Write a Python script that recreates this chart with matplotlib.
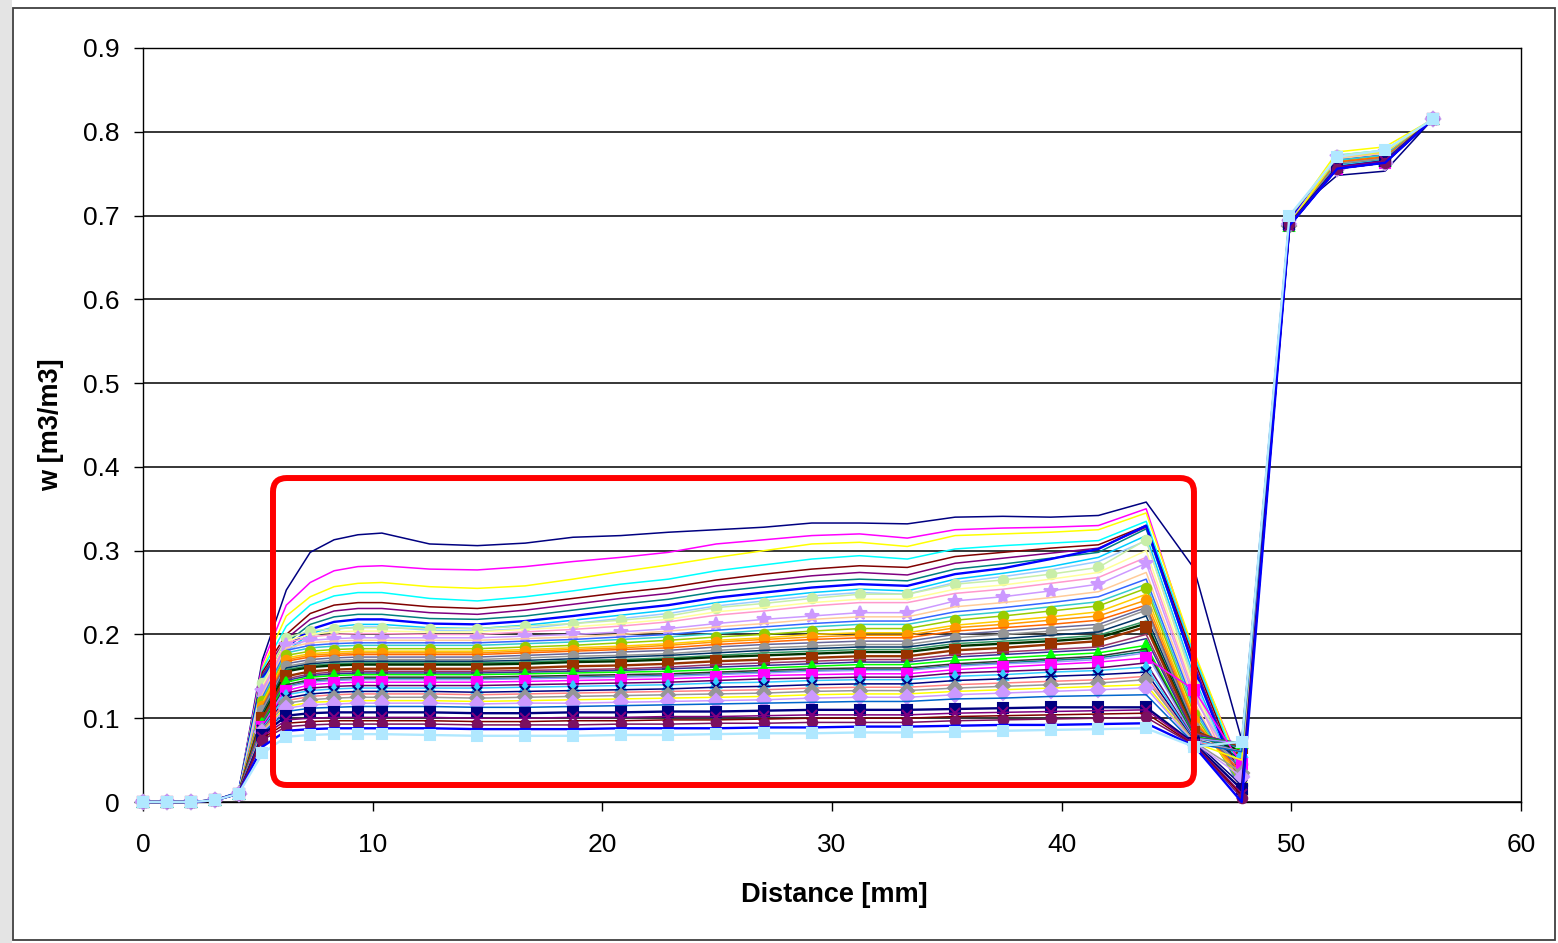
import numpy as np
import matplotlib
matplotlib.use("Agg")
import matplotlib.pyplot as plt
from matplotlib.patches import FancyBboxPatch, Rectangle

plt.rcParams['font.family'] = ['Liberation Sans', 'DejaVu Sans']

# measuring positions along the sample [mm]
distance_mm = [0, 1.04, 2.08, 3.12, 4.16, 5.2, 6.24, 7.28, 8.32, 9.36, 10.4,
               12.48, 14.56, 16.64, 18.72, 20.8, 22.88, 24.96, 27.04, 29.12, 31.2,
               33.28, 35.36, 37.44, 39.52, 41.6, 43.68,
               45.76, 47.84, 49.92, 52.0, 54.08, 56.16]

# moisture content profiles w [m3/m3], one row per measurement
w_profiles = [
    [0, 0, 0, 0.002, 0.012, 0.170, 0.253, 0.298, 0.313, 0.319, 0.321, 0.308, 0.306, 0.309, 0.316, 0.318, 0.322, 0.325, 0.328, 0.333, 0.333, 0.332, 0.340, 0.341, 0.340, 0.342, 0.358, 0.279, 0.074, 0.700, 0.748, 0.753, 0.815],
    [0, 0, 0, 0.002, 0.012, 0.165, 0.235, 0.262, 0.276, 0.281, 0.282, 0.278, 0.277, 0.281, 0.287, 0.292, 0.298, 0.308, 0.313, 0.318, 0.320, 0.315, 0.325, 0.327, 0.328, 0.330, 0.350, 0.175, 0.040, 0.690, 0.770, 0.776, 0.815],
    [0, 0, 0, 0.002, 0.012, 0.160, 0.222, 0.245, 0.257, 0.261, 0.262, 0.257, 0.255, 0.258, 0.266, 0.275, 0.283, 0.292, 0.300, 0.308, 0.310, 0.305, 0.318, 0.320, 0.322, 0.325, 0.345, 0.180, 0.035, 0.695, 0.776, 0.782, 0.815],
    [0, 0, 0, 0.002, 0.012, 0.158, 0.210, 0.235, 0.246, 0.250, 0.250, 0.243, 0.240, 0.245, 0.252, 0.260, 0.266, 0.276, 0.283, 0.290, 0.294, 0.290, 0.302, 0.306, 0.309, 0.312, 0.335, 0.175, 0.030, 0.692, 0.772, 0.778, 0.815],
    [0, 0, 0, 0.002, 0.011, 0.155, 0.200, 0.225, 0.235, 0.238, 0.238, 0.233, 0.231, 0.236, 0.243, 0.250, 0.256, 0.265, 0.272, 0.278, 0.282, 0.280, 0.293, 0.298, 0.303, 0.307, 0.330, 0.170, 0.025, 0.688, 0.762, 0.770, 0.815],
    [0, 0, 0, 0.002, 0.011, 0.152, 0.195, 0.218, 0.228, 0.231, 0.231, 0.226, 0.224, 0.229, 0.236, 0.243, 0.249, 0.258, 0.264, 0.270, 0.274, 0.271, 0.285, 0.291, 0.297, 0.303, 0.328, 0.165, 0.020, 0.690, 0.766, 0.772, 0.815],
    [0, 0, 0, 0.002, 0.011, 0.150, 0.190, 0.212, 0.221, 0.224, 0.224, 0.219, 0.218, 0.222, 0.229, 0.236, 0.242, 0.251, 0.257, 0.263, 0.266, 0.264, 0.278, 0.284, 0.291, 0.298, 0.326, 0.160, 0.020, 0.693, 0.768, 0.774, 0.815],
    [0, 0, 0, 0.002, 0.011, 0.148, 0.185, 0.206, 0.215, 0.218, 0.218, 0.213, 0.212, 0.216, 0.222, 0.229, 0.235, 0.244, 0.250, 0.256, 0.260, 0.258, 0.272, 0.279, 0.290, 0.302, 0.330, 0.160, 0.015, 0.695, 0.765, 0.773, 0.815],
    [0, 0, 0, 0.002, 0.011, 0.146, 0.180, 0.201, 0.209, 0.212, 0.212, 0.208, 0.207, 0.211, 0.217, 0.223, 0.229, 0.238, 0.244, 0.250, 0.254, 0.252, 0.266, 0.273, 0.281, 0.292, 0.318, 0.150, 0.012, 0.690, 0.770, 0.776, 0.815],
    [0, 0, 0, 0.002, 0.011, 0.144, 0.178, 0.198, 0.206, 0.209, 0.209, 0.205, 0.204, 0.207, 0.213, 0.219, 0.225, 0.234, 0.240, 0.246, 0.250, 0.248, 0.262, 0.269, 0.277, 0.287, 0.312, 0.145, 0.012, 0.688, 0.768, 0.775, 0.815],
    [0, 0, 0, 0.002, 0.010, 0.142, 0.196, 0.204, 0.207, 0.208, 0.208, 0.207, 0.207, 0.210, 0.213, 0.217, 0.222, 0.232, 0.237, 0.243, 0.248, 0.248, 0.260, 0.265, 0.272, 0.280, 0.313, 0.140, 0.010, 0.690, 0.772, 0.778, 0.815],
    [0, 0, 0, 0.002, 0.010, 0.138, 0.192, 0.200, 0.203, 0.204, 0.204, 0.203, 0.203, 0.206, 0.209, 0.213, 0.218, 0.227, 0.232, 0.238, 0.242, 0.242, 0.254, 0.259, 0.266, 0.274, 0.300, 0.135, 0.010, 0.688, 0.770, 0.776, 0.815],
    [0, 0, 0, 0.002, 0.010, 0.135, 0.190, 0.197, 0.200, 0.201, 0.201, 0.200, 0.200, 0.203, 0.206, 0.210, 0.215, 0.223, 0.228, 0.234, 0.238, 0.238, 0.249, 0.254, 0.261, 0.268, 0.292, 0.130, 0.010, 0.690, 0.768, 0.775, 0.815],
    [0, 0, 0, 0.002, 0.010, 0.132, 0.187, 0.193, 0.195, 0.196, 0.196, 0.196, 0.196, 0.198, 0.200, 0.203, 0.207, 0.213, 0.218, 0.222, 0.226, 0.226, 0.240, 0.245, 0.252, 0.260, 0.285, 0.125, 0.030, 0.692, 0.770, 0.776, 0.815],
    [0, 0, 0, 0.002, 0.010, 0.128, 0.184, 0.190, 0.192, 0.193, 0.193, 0.193, 0.193, 0.195, 0.197, 0.200, 0.204, 0.209, 0.213, 0.218, 0.221, 0.221, 0.233, 0.238, 0.244, 0.251, 0.274, 0.120, 0.012, 0.690, 0.768, 0.774, 0.815],
    [0, 0, 0, 0.002, 0.010, 0.125, 0.181, 0.187, 0.189, 0.190, 0.190, 0.190, 0.190, 0.192, 0.194, 0.197, 0.200, 0.205, 0.209, 0.213, 0.216, 0.216, 0.227, 0.232, 0.238, 0.245, 0.266, 0.115, 0.015, 0.688, 0.766, 0.772, 0.815],
    [0, 0, 0, 0.002, 0.010, 0.122, 0.178, 0.184, 0.186, 0.187, 0.187, 0.187, 0.187, 0.189, 0.191, 0.194, 0.197, 0.201, 0.205, 0.209, 0.212, 0.212, 0.222, 0.227, 0.233, 0.239, 0.260, 0.110, 0.018, 0.690, 0.766, 0.772, 0.815],
    [0, 0, 0, 0.002, 0.010, 0.120, 0.175, 0.180, 0.182, 0.183, 0.183, 0.183, 0.183, 0.185, 0.187, 0.190, 0.193, 0.197, 0.200, 0.204, 0.207, 0.207, 0.217, 0.222, 0.228, 0.234, 0.255, 0.105, 0.020, 0.688, 0.764, 0.770, 0.815],
    [0, 0, 0, 0.002, 0.010, 0.118, 0.172, 0.177, 0.179, 0.180, 0.180, 0.180, 0.180, 0.182, 0.184, 0.186, 0.189, 0.193, 0.196, 0.200, 0.202, 0.202, 0.211, 0.216, 0.221, 0.227, 0.248, 0.100, 0.025, 0.690, 0.764, 0.770, 0.815],
    [0, 0, 0, 0.002, 0.010, 0.115, 0.170, 0.175, 0.177, 0.178, 0.178, 0.178, 0.178, 0.180, 0.182, 0.184, 0.187, 0.191, 0.194, 0.197, 0.199, 0.199, 0.208, 0.212, 0.217, 0.222, 0.241, 0.098, 0.030, 0.688, 0.762, 0.768, 0.815],
    [0, 0, 0, 0.002, 0.010, 0.113, 0.168, 0.173, 0.175, 0.176, 0.176, 0.176, 0.176, 0.178, 0.180, 0.182, 0.184, 0.188, 0.191, 0.194, 0.196, 0.196, 0.204, 0.208, 0.212, 0.217, 0.235, 0.095, 0.035, 0.690, 0.764, 0.770, 0.815],
    [0, 0, 0, 0.002, 0.010, 0.112, 0.165, 0.170, 0.172, 0.173, 0.173, 0.173, 0.173, 0.175, 0.177, 0.179, 0.181, 0.185, 0.188, 0.190, 0.192, 0.192, 0.200, 0.204, 0.208, 0.212, 0.232, 0.092, 0.040, 0.688, 0.762, 0.768, 0.815],
    [0, 0, 0, 0.002, 0.010, 0.110, 0.162, 0.167, 0.169, 0.170, 0.170, 0.170, 0.170, 0.172, 0.174, 0.175, 0.177, 0.181, 0.184, 0.186, 0.188, 0.188, 0.196, 0.200, 0.204, 0.208, 0.229, 0.090, 0.045, 0.690, 0.762, 0.768, 0.815],
    [0, 0, 0, 0.002, 0.010, 0.106, 0.160, 0.165, 0.167, 0.168, 0.168, 0.168, 0.168, 0.169, 0.171, 0.173, 0.175, 0.178, 0.181, 0.183, 0.185, 0.185, 0.192, 0.195, 0.199, 0.203, 0.222, 0.088, 0.050, 0.688, 0.760, 0.766, 0.815],
    [0, 0, 0, 0.002, 0.010, 0.104, 0.158, 0.163, 0.165, 0.166, 0.166, 0.166, 0.166, 0.167, 0.169, 0.170, 0.172, 0.175, 0.178, 0.180, 0.182, 0.182, 0.189, 0.192, 0.195, 0.199, 0.216, 0.086, 0.055, 0.690, 0.760, 0.766, 0.815],
    [0, 0, 0, 0.002, 0.010, 0.102, 0.156, 0.161, 0.163, 0.164, 0.164, 0.164, 0.164, 0.165, 0.167, 0.168, 0.170, 0.173, 0.175, 0.177, 0.179, 0.179, 0.186, 0.189, 0.192, 0.196, 0.213, 0.085, 0.060, 0.688, 0.758, 0.765, 0.815],
    [0, 0, 0, 0.002, 0.010, 0.100, 0.150, 0.156, 0.158, 0.159, 0.159, 0.159, 0.159, 0.160, 0.162, 0.163, 0.165, 0.168, 0.170, 0.172, 0.174, 0.174, 0.181, 0.184, 0.188, 0.192, 0.209, 0.084, 0.065, 0.690, 0.758, 0.765, 0.815],
    [0, 0, 0, 0.002, 0.010, 0.097, 0.147, 0.153, 0.155, 0.156, 0.156, 0.156, 0.156, 0.157, 0.158, 0.159, 0.161, 0.164, 0.166, 0.168, 0.170, 0.170, 0.176, 0.179, 0.182, 0.185, 0.200, 0.082, 0.068, 0.688, 0.756, 0.763, 0.815],
    [0, 0, 0, 0.002, 0.010, 0.095, 0.145, 0.151, 0.153, 0.154, 0.154, 0.154, 0.154, 0.155, 0.156, 0.157, 0.159, 0.161, 0.163, 0.165, 0.167, 0.167, 0.173, 0.176, 0.179, 0.182, 0.195, 0.080, 0.070, 0.690, 0.756, 0.763, 0.815],
    [0, 0, 0, 0.002, 0.010, 0.094, 0.143, 0.149, 0.151, 0.152, 0.152, 0.152, 0.152, 0.153, 0.154, 0.155, 0.156, 0.158, 0.160, 0.162, 0.164, 0.164, 0.169, 0.172, 0.175, 0.178, 0.187, 0.078, 0.070, 0.688, 0.758, 0.765, 0.815],
    [0, 0, 0, 0.002, 0.010, 0.093, 0.138, 0.144, 0.146, 0.147, 0.147, 0.147, 0.147, 0.148, 0.149, 0.150, 0.151, 0.153, 0.155, 0.157, 0.158, 0.158, 0.163, 0.166, 0.169, 0.172, 0.180, 0.077, 0.065, 0.690, 0.758, 0.765, 0.815],
    [0, 0, 0, 0.002, 0.010, 0.092, 0.140, 0.146, 0.148, 0.149, 0.149, 0.149, 0.149, 0.150, 0.151, 0.152, 0.153, 0.155, 0.157, 0.159, 0.160, 0.160, 0.165, 0.168, 0.171, 0.174, 0.183, 0.077, 0.070, 0.690, 0.758, 0.765, 0.815],
    [0, 0, 0, 0.002, 0.010, 0.091, 0.137, 0.143, 0.145, 0.146, 0.146, 0.146, 0.146, 0.147, 0.148, 0.149, 0.150, 0.152, 0.154, 0.156, 0.157, 0.157, 0.162, 0.165, 0.167, 0.170, 0.178, 0.076, 0.070, 0.688, 0.756, 0.763, 0.815],
    [0, 0, 0, 0.002, 0.010, 0.090, 0.133, 0.140, 0.142, 0.143, 0.143, 0.143, 0.143, 0.144, 0.145, 0.146, 0.147, 0.149, 0.151, 0.152, 0.153, 0.153, 0.158, 0.161, 0.164, 0.167, 0.172, 0.134, 0.045, 0.690, 0.756, 0.763, 0.815],
    [0, 0, 0, 0.002, 0.010, 0.089, 0.130, 0.136, 0.138, 0.139, 0.139, 0.139, 0.139, 0.140, 0.141, 0.142, 0.143, 0.145, 0.147, 0.148, 0.149, 0.149, 0.154, 0.156, 0.158, 0.160, 0.166, 0.075, 0.060, 0.688, 0.758, 0.765, 0.815],
    [0, 0, 0, 0.002, 0.010, 0.088, 0.128, 0.133, 0.135, 0.136, 0.136, 0.136, 0.136, 0.137, 0.138, 0.139, 0.140, 0.142, 0.143, 0.145, 0.146, 0.146, 0.150, 0.152, 0.155, 0.157, 0.161, 0.074, 0.060, 0.690, 0.760, 0.766, 0.815],
    [0, 0, 0, 0.002, 0.010, 0.086, 0.124, 0.129, 0.131, 0.132, 0.132, 0.132, 0.131, 0.132, 0.133, 0.134, 0.135, 0.137, 0.138, 0.140, 0.141, 0.141, 0.145, 0.147, 0.150, 0.152, 0.155, 0.073, 0.020, 0.688, 0.758, 0.765, 0.815],
    [0, 0, 0, 0.002, 0.010, 0.086, 0.121, 0.126, 0.128, 0.129, 0.129, 0.129, 0.128, 0.129, 0.130, 0.131, 0.132, 0.133, 0.134, 0.136, 0.137, 0.137, 0.140, 0.142, 0.144, 0.146, 0.150, 0.072, 0.060, 0.690, 0.758, 0.765, 0.815],
    [0, 0, 0, 0.002, 0.010, 0.085, 0.118, 0.122, 0.124, 0.125, 0.125, 0.125, 0.124, 0.125, 0.126, 0.127, 0.128, 0.129, 0.130, 0.132, 0.133, 0.133, 0.136, 0.138, 0.140, 0.142, 0.146, 0.072, 0.035, 0.688, 0.756, 0.763, 0.815],
    [0, 0, 0, 0.002, 0.010, 0.084, 0.114, 0.119, 0.120, 0.121, 0.121, 0.121, 0.120, 0.121, 0.122, 0.123, 0.124, 0.125, 0.126, 0.128, 0.129, 0.129, 0.132, 0.134, 0.136, 0.138, 0.140, 0.071, 0.050, 0.690, 0.770, 0.776, 0.815],
    [0, 0, 0, 0.002, 0.010, 0.083, 0.112, 0.116, 0.117, 0.118, 0.118, 0.118, 0.117, 0.118, 0.118, 0.119, 0.120, 0.121, 0.122, 0.124, 0.125, 0.125, 0.128, 0.130, 0.132, 0.134, 0.136, 0.071, 0.030, 0.690, 0.756, 0.763, 0.815],
    [0, 0, 0, 0.002, 0.010, 0.082, 0.108, 0.112, 0.113, 0.114, 0.114, 0.114, 0.113, 0.113, 0.114, 0.115, 0.116, 0.117, 0.118, 0.119, 0.120, 0.120, 0.123, 0.124, 0.126, 0.127, 0.128, 0.070, 0.060, 0.688, 0.756, 0.763, 0.815],
    [0, 0, 0, 0.002, 0.010, 0.080, 0.103, 0.106, 0.107, 0.107, 0.107, 0.107, 0.106, 0.106, 0.107, 0.107, 0.108, 0.108, 0.109, 0.110, 0.110, 0.110, 0.111, 0.112, 0.113, 0.113, 0.113, 0.070, 0.015, 0.690, 0.758, 0.765, 0.815],
    [0, 0, 0, 0.002, 0.010, 0.078, 0.098, 0.100, 0.101, 0.101, 0.101, 0.101, 0.100, 0.100, 0.101, 0.101, 0.102, 0.102, 0.103, 0.104, 0.104, 0.104, 0.106, 0.107, 0.108, 0.109, 0.110, 0.069, 0.010, 0.688, 0.758, 0.765, 0.815],
    [0, 0, 0, 0.002, 0.010, 0.076, 0.094, 0.096, 0.097, 0.097, 0.097, 0.097, 0.096, 0.096, 0.097, 0.097, 0.098, 0.098, 0.099, 0.100, 0.100, 0.100, 0.102, 0.103, 0.104, 0.105, 0.106, 0.068, 0.008, 0.688, 0.756, 0.763, 0.815],
    [0, 0, 0, 0.002, 0.010, 0.074, 0.090, 0.092, 0.093, 0.093, 0.093, 0.093, 0.092, 0.092, 0.092, 0.093, 0.093, 0.094, 0.094, 0.095, 0.095, 0.095, 0.097, 0.098, 0.099, 0.100, 0.101, 0.068, 0.005, 0.690, 0.756, 0.763, 0.815],
    [0, 0, 0, 0.002, 0.010, 0.066, 0.085, 0.087, 0.088, 0.088, 0.088, 0.088, 0.087, 0.087, 0.087, 0.088, 0.088, 0.088, 0.089, 0.089, 0.090, 0.090, 0.091, 0.092, 0.092, 0.093, 0.094, 0.067, 0.000, 0.688, 0.756, 0.763, 0.815],
    [0, 0, 0, 0.002, 0.010, 0.058, 0.078, 0.080, 0.081, 0.081, 0.081, 0.080, 0.079, 0.079, 0.079, 0.080, 0.080, 0.081, 0.082, 0.082, 0.083, 0.083, 0.084, 0.085, 0.086, 0.087, 0.088, 0.066, 0.072, 0.700, 0.770, 0.778, 0.815],
]

y_tick_values = [0, 0.1, 0.2, 0.3, 0.4, 0.5, 0.6, 0.7, 0.8, 0.9]
y_tick_labels = ['0', '0.1', '0.2', '0.3', '0.4', '0.5', '0.6', '0.7', '0.8', '0.9']
x_tick_values = [0, 10, 20, 30, 40, 50, 60]

# excel-like series colours, in plotting order
series_colors = ['#000080', '#FF00FF', '#FFFF00', '#00FFFF', '#800000', '#800080', '#008080', '#0000FF',
                 '#00CCFF', '#99CCFF', '#C8EEA8', '#FFFF99', '#FF99CC', '#CC99FF', '#FFCC99', '#3366FF',
                 '#33CCCC', '#99CC00', '#FFCC00', '#FF9900', '#FF6600', '#666699', '#969696', '#003366',
                 '#339966', '#003300', '#993300', '#993366', '#333399', '#00FF00', '#008080', '#333333',
                 '#9999FF', '#FF00FF', '#660066', '#33CCFF', '#000080', '#FF8080', '#969696', '#FFFF00',
                 '#CC99FF', '#0066CC', '#000080', '#800080', '#800000', '#7B1060', '#0000FF', '#B0E8FF']
series_markers = {10: 'o', 13: '*', 17: 'o', 19: 'o', 22: 'o', 26: 's', 29: '^', 33: 's',
                  35: '^', 36: 'x', 38: 'D', 40: 'D', 42: 's', 43: 'x', 45: 'o', 47: 's'}
thick_series = {7, 25, 26, 42, 46, 47}

fig = plt.figure(figsize=(15.58, 9.43), dpi=100)
fig.patch.set_facecolor('white')

# grey page strip and chart-area border
fig.patches.append(Rectangle((0, 0), 12 / 1558, 1, transform=fig.transFigure,
                             facecolor='#E4E4E4', edgecolor='none', zorder=0))
fig.patches.append(Rectangle((13 / 1558, 3 / 943), 1542 / 1558, 932 / 943,
                             transform=fig.transFigure, fill=False,
                             edgecolor='#404040', linewidth=1.3, zorder=1))

ax = fig.add_axes([143 / 1558, 1 - 802 / 943, 1378 / 1558, 754 / 943])

for i, (row, col) in enumerate(zip(w_profiles, series_colors)):
    mk = series_markers.get(i, None)
    lw = 1.7 if i in thick_series else 1.1
    ms = 10 if mk == '*' else 6.8
    ax.plot(distance_mm, row, color=col, lw=lw, marker=mk, ms=ms,
            mfc=col, mec=col, mew=1.5, zorder=3 + i * 0.01, clip_on=False)

ax.set_xlim(0, 60)
ax.set_ylim(0, 0.9)
ax.set_xticks(x_tick_values)
ax.set_yticks(y_tick_values)
ax.set_yticklabels(y_tick_labels)
ax.yaxis.grid(True, color='black', linewidth=1.1, zorder=1)
ax.set_axisbelow(True)

for sp in ax.spines.values():
    sp.set_color('black')
    sp.set_linewidth(1.0)

ax.tick_params(axis='both', direction='out', length=6.5, width=1.0, colors='black', labelsize=19)
ax.tick_params(axis='y', pad=10.5)
ax.tick_params(axis='x', pad=16)

ax.set_xlabel('Distance [mm]', fontsize=19.5, fontweight='bold')
ax.set_ylabel('w [m3/m3]', fontsize=19.5, fontweight='bold')
ax.xaxis.set_label_coords(0.5015, -0.106)
ax.yaxis.set_label_coords(-0.057, 0.5)

# highlight frame around the plateau region
box = FancyBboxPatch((5.66, 0.0203), 45.76 - 5.66, 0.3867 - 0.0203,
                     boxstyle='round,pad=0,rounding_size=0.6',
                     mutation_aspect=22.97 / 837.8,
                     transform=ax.transData, fill=False,
                     edgecolor='#FF0000', linewidth=4.3, zorder=20, clip_on=False)
ax.add_patch(box)

fig.savefig('out.png', dpi=100)
